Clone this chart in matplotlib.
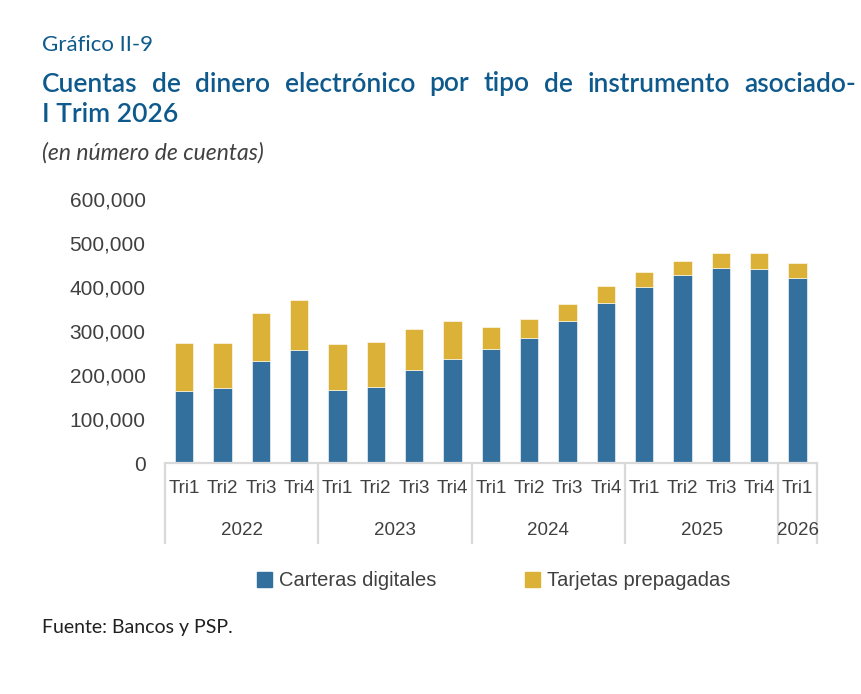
import numpy as np
import matplotlib
matplotlib.use("Agg")
from matplotlib import pyplot as plt
from matplotlib import font_manager
from matplotlib.patches import Patch
import matplotlib.transforms as mtransforms

# data
years = ["2022", "2023", "2024", "2025", "2026"]
quarters_per_year = [4, 4, 4, 4, 1]
quarter_labels = ["Tri1", "Tri2", "Tri3", "Tri4"] * 4 + ["Tri1"]
carteras = [163000, 172000, 233000, 257000,
            167000, 174000, 211000, 237000,
            260000, 285000, 322000, 364000,
            401000, 427000, 444000, 441000,
            420000]
totales = [272000, 272000, 342000, 370000,
           270000, 275000, 305000, 322000,
           310000, 327000, 362000, 402000,
           434000, 459000, 477000, 477000,
           454000]
tarjetas = [t - c for t, c in zip(totales, carteras)]

BLUE = "#33709E"
GOLD = "#DCB138"
TITLE = "#0F5A8C"
GREY = "#404040"
LINE = "#D9D9D9"

names = {f.name for f in font_manager.fontManager.ttflist}
head = "Lato" if "Lato" in names else "DejaVu Sans"
body = "Liberation Sans"

fig = plt.figure(figsize=(8.62, 6.94), dpi=100)
ax = fig.add_axes([165 / 862, 1 - 463.3 / 694, (816.7 - 165) / 862, (463.3 - 199) / 694])

x = np.arange(len(carteras))
ax.bar(x, carteras, width=0.48, color=BLUE, edgecolor="white", linewidth=0.4, label="Carteras digitales")
ax.bar(x, tarjetas, width=0.48, bottom=carteras, color=GOLD, edgecolor="white", linewidth=0.4,
       label="Tarjetas prepagadas")

ax.set_xlim(-0.5, len(x) - 0.5)
ax.set_ylim(0, 600000)
ax.set_yticks(np.arange(0, 600001, 100000))
ax.set_yticklabels([f"{v:,.0f}" for v in np.arange(0, 600001, 100000)],
                   family=body, fontsize=15, color=GREY)
ax.tick_params(axis="y", length=0, pad=14)

for s in ["top", "right", "left"]:
    ax.spines[s].set_visible(False)
ax.spines["bottom"].set_color(LINE)
ax.spines["bottom"].set_linewidth(1.6)

# two level category axis
ax.set_xticks(x)
ax.set_xticklabels(quarter_labels, family=body, fontsize=13.5, color=GREY)
ax.tick_params(axis="x", length=0, pad=12)
bounds = np.cumsum([0] + quarters_per_year) - 0.5
ax.set_xticks(bounds, minor=True)
ax.tick_params(axis="x", which="minor", length=58, width=1.6, color=LINE)

trans = mtransforms.blended_transform_factory(ax.transData, ax.transAxes)
for i, yr in enumerate(years):
    mid = (bounds[i] + bounds[i + 1]) / 2
    ax.text(mid, -0.255, yr, transform=trans, ha="center", va="center",
            family=body, fontsize=13.5, color=GREY)

handles = [Patch(color=BLUE, label="Carteras digitales"), Patch(color=GOLD, label="Tarjetas prepagadas")]
fig.legend(handles=handles, loc="center", bbox_to_anchor=(494 / 862, 1 - 581 / 694), ncol=2,
           frameon=False, handlelength=0.75, handleheight=0.75, handletextpad=0.35, columnspacing=4.4,
           prop={"family": body, "size": 14.5}, labelcolor=GREY)

# headings
fig.text(42 / 862, 1 - 45 / 694, "Gráfico II-9", family=head, fontsize=16, color=TITLE,
         va="center", ha="left")

words = "Cuentas de dinero electrónico por tipo de instrumento asociado-".split()
fig.canvas.draw()
renderer = fig.canvas.get_renderer()
texts = []
for w in words:
    texts.append(fig.text(0, 1 - 84 / 694, w, family=head, fontsize=19, color=TITLE,
                          weight="semibold", va="center", ha="left"))
widths = [t.get_window_extent(renderer).width for t in texts]
left, right = 42, 856
gap = (right - left - sum(widths)) / (len(words) - 1)
pos = left
for t, wd in zip(texts, widths):
    t.set_x(pos / 862)
    pos += wd + gap
fig.text(42 / 862, 1 - 114 / 694, "I Trim 2026", family=head, fontsize=19, color=TITLE,
         weight="semibold", va="center", ha="left")
fig.text(42 / 862, 1 - 153 / 694, "(en número de cuentas)", family=head, fontsize=16.5,
         style="italic", color=GREY, va="center", ha="left")
fig.text(42 / 862, 1 - 628 / 694, "Fuente: Bancos y PSP.", family=head, fontsize=14,
         color="#202020", va="center", ha="left")

fig.savefig("out.png", dpi=100)
plt.close(fig)
